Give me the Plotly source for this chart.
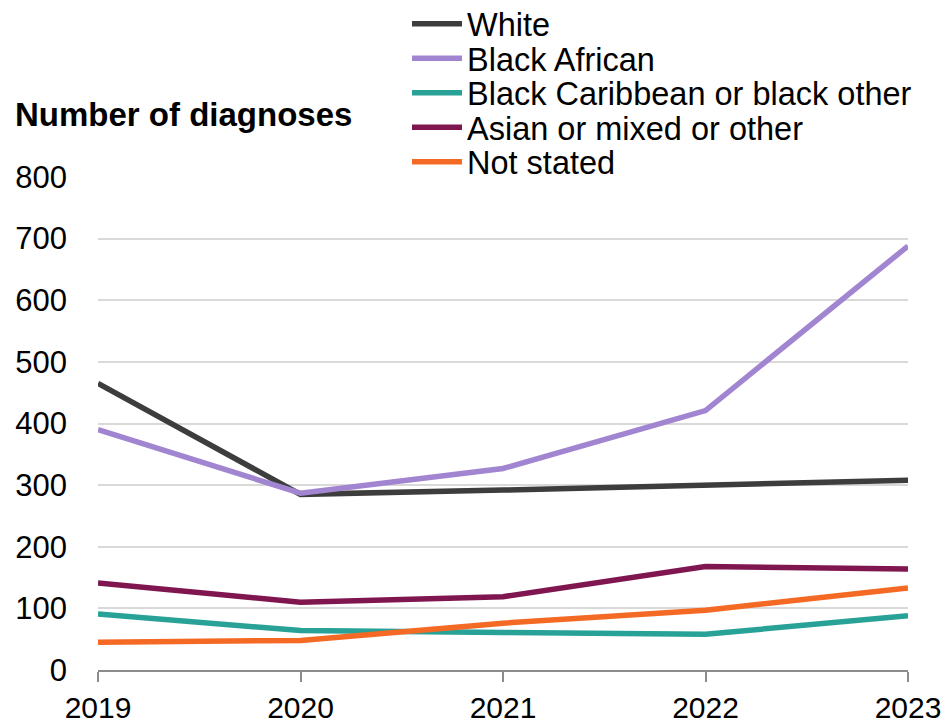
import plotly.graph_objects as go

# Annual diagnoses by ethnic group
years = [2019, 2020, 2021, 2022, 2023]
white = [465, 285, 292, 299, 308]
black_african = [390, 287, 327, 421, 688]
black_caribbean_other = [91, 64, 61, 58, 88]
asian_mixed_other = [141, 110, 119, 168, 164]
not_stated = [45, 48, 76, 97, 133]

series_names = [
    "White",
    "Black African",
    "Black Caribbean or black other",
    "Asian or mixed or other",
    "Not stated",
]
series_values = [white, black_african, black_caribbean_other, asian_mixed_other, not_stated]
series_colors = ["#3d3d3d", "#a285d1", "#28a197", "#801650", "#f46a25"]

y_ticks = [0, 100, 200, 300, 400, 500, 600, 700, 800]

FONT = "Liberation Sans, Arial, sans-serif"
W, H = 948, 724

fig = go.Figure()
legend_keys = ["legend", "legend2", "legend3", "legend4", "legend5"]
for name, vals, col, lg in zip(series_names, series_values, series_colors, legend_keys):
    fig.add_trace(
        go.Scatter(
            x=years,
            y=vals,
            mode="lines",
            name=name,
            line=dict(color=col, width=5.5),
            legend=lg,
        )
    )

# one single-entry legend per series so the rows sit close together
row_centres = [24, 58.5, 93, 127.5, 162]
legend_layout = {}
for lg, yc in zip(legend_keys, row_centres):
    legend_layout[lg] = dict(
        xref="container",
        yref="container",
        x=407 / W,
        y=1 - yc / H,
        xanchor="left",
        yanchor="middle",
        font=dict(family=FONT, size=32.5, color="#000000"),
        itemwidth=50,
        bgcolor="rgba(0,0,0,0)",
        borderwidth=0,
    )

fig.update_layout(
    width=W,
    height=H,
    margin=dict(l=98, r=40, t=177, b=54, pad=0, autoexpand=False),
    paper_bgcolor="white",
    plot_bgcolor="white",
    font=dict(family=FONT, color="#000000"),
    showlegend=True,
    **legend_layout,
)

fig.update_xaxes(
    range=[2019, 2023],
    tickmode="array",
    tickvals=years,
    ticktext=[str(y) for y in years],
    showgrid=False,
    zeroline=False,
    showline=True,
    linecolor="#8c8c8c",
    linewidth=2,
    ticks="outside",
    ticklen=10,
    tickwidth=2,
    tickcolor="#8c8c8c",
    tickfont=dict(family=FONT, size=30, color="#000000"),
    ticklabelstandoff=0,
    automargin=False,
)

fig.update_yaxes(
    range=[0, 800],
    tickmode="array",
    tickvals=y_ticks,
    ticktext=[str(v) for v in y_ticks],
    showgrid=True,
    gridcolor="#d9d9d9",
    gridwidth=1.5,
    zeroline=False,
    showline=False,
    ticks="",
    tickfont=dict(family=FONT, size=31, color="#000000"),
    ticklabelstandoff=30,
    automargin=False,
)

fig.add_annotation(
    text="<b>Number of diagnoses</b>",
    xref="paper",
    yref="paper",
    x=-98 / 810,
    y=1 + (177 - 114) / 493,
    xanchor="left",
    yanchor="middle",
    xshift=13,
    showarrow=False,
    font=dict(family=FONT, size=33, color="#000000"),
)

fig.write_html("out.html")
